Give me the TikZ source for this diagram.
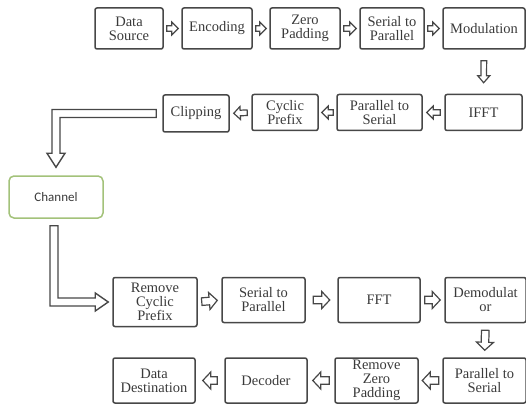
\documentclass[tikz,border=0pt]{standalone}
\usepackage{fontspec}
\setmainfont{Liberation Serif}
\newfontfamily\chanfont{Carlito}
\usetikzlibrary{calc}
\definecolor{BoxGray}{HTML}{474747}
\definecolor{TextGray}{HTML}{3A3A3A}
\definecolor{ChanGreen}{HTML}{A3C27A}

\tikzset{
  fgap/.store in=\fgap, fsw/.store in=\fsw,
  fhw/.store in=\fhw, fhl/.store in=\fhl,
  % hollow block arrow between two anchors
  flow/.style={draw=BoxGray,line width=1.2pt,line join=miter,to path={
      ($(\tikztostart)!\fgap!(\tikztotarget)$) coordinate (fa)
      ($(\tikztotarget)!\fgap!(\tikztostart)$) coordinate (fb)
      ($(fb)!\fhl!(fa)$) coordinate (fc)
      ($(fa)!\fsw!90:(fb)$) -- ($(fc)!\fsw!90:(fb)$) -- ($(fc)!\fhw!90:(fb)$) -- (fb)
      -- ($(fc)!\fhw!-90:(fb)$) -- ($(fc)!\fsw!-90:(fb)$) -- ($(fa)!\fsw!-90:(fb)$) -- cycle}},
  bigflow/.style={draw=BoxGray,line width=1.4pt,line join=miter},
}

\begin{document}
\begin{tikzpicture}[x=1pt,y=-1pt,fgap=3pt,fsw=2.8pt,fhw=6.5pt,fhl=6.5pt,
    block/.style={draw=BoxGray,line width=1.5pt,rounded corners=2pt,align=center,
      inner sep=0pt,text=TextGray,font=\fontsize{14.5}{14}\selectfont}]
  \useasboundingbox (0,0) rectangle (526,406);
  % transmitter
  \node[block,minimum width=68pt,minimum height=41pt] (src) at (129,28.5) {Data\\Source};
  \node[block,minimum width=70pt,minimum height=41pt] (enc) at (217,28.5) {Encoding};
  \node[block,minimum width=70pt,minimum height=41pt] (zpad) at (305,28.5) {Zero\\Padding};
  \node[block,minimum width=64pt,minimum height=41pt] (sp) at (392,28.5) {Serial to\\Parallel};
  \node[block,minimum width=82pt,minimum height=41pt] (mod) at (484,28.5) {Modulation};
  \node[block,minimum width=77pt,minimum height=36pt] (ifft) at (483.5,112.5) {IFFT};
  \node[block,minimum width=85pt,minimum height=36pt] (ps) at (379.5,112.5) {Parallel to\\Serial};
  \node[block,minimum width=66pt,minimum height=36pt] (cp) at (285,112.5) {Cyclic\\Prefix};
  \node[block,minimum width=66pt,minimum height=37pt] (clip) at (196,113.5) {Clipping};
  % channel
  \node[draw=ChanGreen,line width=1.5pt,rounded corners=5pt,minimum width=94pt,
    minimum height=42pt,text=TextGray,font=\chanfont\fontsize{13}{14}\selectfont] (chan) at (56,197) {Channel};
  % receiver
  \node[block,minimum width=84pt,minimum height=49pt] (rcp) at (155,302) {Remove\\Cyclic\\Prefix};
  \node[block,minimum width=83pt,minimum height=45pt] (sp2) at (263.5,300) {Serial to\\Parallel};
  \node[block,minimum width=82pt,minimum height=45pt] (fft) at (379,300) {FFT};
  \node[block,minimum width=81pt,minimum height=45pt] (demod) at (485.5,300) {Demodulat\\or};
  \node[block,minimum width=83pt,minimum height=45pt] (ps2) at (484.5,380.5) {Parallel to\\Serial};
  \node[block,minimum width=83pt,minimum height=45pt] (rzp) at (376.5,380.5) {Remove\\Zero\\Padding};
  \node[block,minimum width=82pt,minimum height=45pt] (dec) at (266,380.5) {Decoder};
  \node[block,minimum width=82pt,minimum height=45pt] (dest) at (154,380.5) {Data\\Destination};
  % small arrows
  \draw[flow] (src.east) to (enc.west);
  \draw[flow] (enc.east) to (zpad.west);
  \draw[flow] (zpad.east) to (sp.west);
  \draw[flow] (sp.east) to (mod.west);
  \draw[flow,fgap=11pt,fhl=7pt,fhw=6pt] (mod.south) to (ifft.north);
  \draw[flow,fgap=4pt] (ifft.west) to (ps.east);
  \draw[flow] (ps.west) to (cp.east);
  \draw[flow,fgap=4pt] (cp.west) to (clip.east);
  % channel links
  \coordinate (a1) at ($(clip.west)+(-6,0)$);
  \coordinate (b1) at ($(chan.north)+(0,-8)$);
  \draw[bigflow] ($(a1)+(0,-4)$) -| ($(b1)+(-4,-14)$) -- ++(-5,0) -- (b1)
    -- ++(9,-14) -- ++(-5,0) |- ($(a1)+(0,4)$) -- cycle;
  \coordinate (a2) at ($(chan.south)+(-2,7)$);
  \coordinate (b2) at ($(rcp.west)+(-4,0)$);
  \draw[bigflow] ($(a2)+(-4,0)$) |- ($(b2)+(-13,4)$) -- ++(0,5) -- (b2)
    -- ++(-13,-9) -- ++(0,5) -| ($(a2)+(4,0)$) -- cycle;
  % receiver arrows
  \begin{scope}[fsw=3.8pt,fhw=8.5pt,fhl=8pt]
    \draw[flow,fgap=4pt] (rcp.east) to (sp2.west);
    \draw[flow,fgap=7.5pt] (sp2.east) to (fft.west);
    \draw[flow,fgap=4pt] (fft.east) to (demod.west);
    \draw[flow,fgap=7pt] (demod.south) to (ps2.north);
    \draw[flow,fgap=3.5pt] (ps2.west) to (rzp.east);
    \draw[flow,fgap=5pt] (rzp.west) to (dec.east);
    \draw[flow,fgap=7pt] (dec.west) to (dest.east);
  \end{scope}
\end{tikzpicture}
\end{document}
